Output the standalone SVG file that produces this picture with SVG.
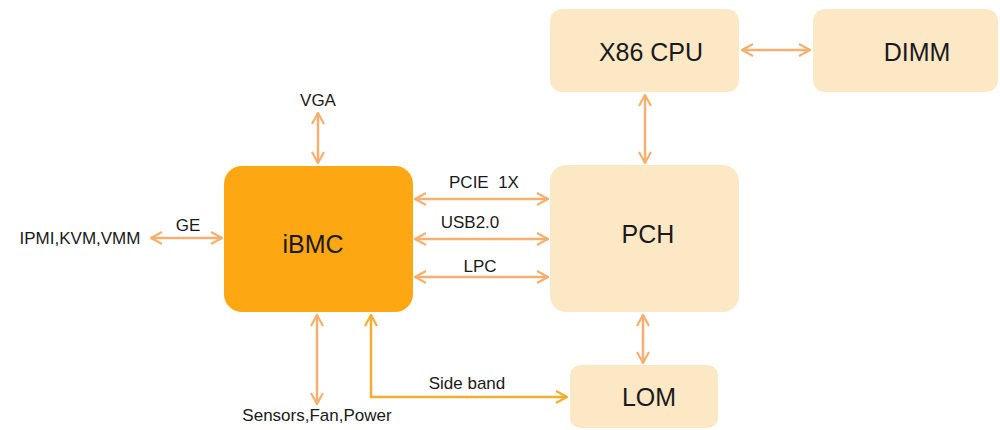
<svg xmlns="http://www.w3.org/2000/svg" width="1000" height="430" viewBox="0 0 1000 430">
<style>
.box{fill:#FDE8C6}
.main{fill:#FDA812}
.big{font-family:"Liberation Sans",Arial,sans-serif;font-size:25px;fill:#1a1a1a;text-anchor:middle;dominant-baseline:central}
.lbl{font-family:"Liberation Sans",Arial,sans-serif;font-size:17px;fill:#1a1a1a;text-anchor:middle;dominant-baseline:central}
.c{stroke:#F5B070;stroke-width:2.5;fill:none}
.sb{stroke:#F2AE30;stroke-width:2.5;fill:none}
</style>
<defs>
<marker id="a" viewBox="0 0 14 14" refX="13" refY="7" markerWidth="14" markerHeight="14" markerUnits="userSpaceOnUse" orient="auto-start-reverse">
<path d="M2,1 L13,7 L2,13" fill="none" stroke="#F5B070" stroke-width="2.2"/>
</marker>
<marker id="b" viewBox="0 0 14 14" refX="13" refY="7" markerWidth="14" markerHeight="14" markerUnits="userSpaceOnUse" orient="auto-start-reverse">
<path d="M2,1 L13,7 L2,13" fill="none" stroke="#F2AE30" stroke-width="2.2"/>
</marker>
</defs>
<g id="connectors">
<line class="c" x1="742" y1="50" x2="810" y2="50" marker-start="url(#a)" marker-end="url(#a)"/>
<line class="c" x1="645" y1="95" x2="645" y2="163" marker-start="url(#a)" marker-end="url(#a)"/>
<line class="c" x1="643" y1="315" x2="643" y2="363" marker-start="url(#a)" marker-end="url(#a)"/>
<line class="c" x1="415" y1="199" x2="548" y2="199" marker-start="url(#a)" marker-end="url(#a)"/>
<line class="c" x1="415" y1="239" x2="548" y2="239" marker-start="url(#a)" marker-end="url(#a)"/>
<line class="c" x1="415" y1="277" x2="548" y2="277" marker-start="url(#a)" marker-end="url(#a)"/>
<line class="c" x1="151" y1="238" x2="222" y2="238" marker-start="url(#a)" marker-end="url(#a)"/>
<line class="c" x1="318" y1="113" x2="318" y2="163" marker-start="url(#a)" marker-end="url(#a)"/>
<line class="c" x1="317" y1="315" x2="317" y2="404" marker-start="url(#a)" marker-end="url(#a)"/>
<polyline class="sb" points="371,315 371,397 567,397" marker-start="url(#b)" marker-end="url(#b)"/>
<text class="lbl" x="484" y="182" xml:space="preserve">PCIE  1X</text>
<text class="lbl" x="470" y="222">USB2.0</text>
<text class="lbl" x="480" y="266">LPC</text>
<text class="lbl" x="188" y="225">GE</text>
<text class="lbl" x="80" y="238">IPMI,KVM,VMM</text>
<text class="lbl" x="318" y="100">VGA</text>
<text class="lbl" x="317" y="415">Sensors,Fan,Power</text>
<text class="lbl" x="467" y="383">Side band</text>
</g>
<g id="ibmc"><rect class="main" x="224" y="166" width="189" height="146" rx="18"/><text class="big" x="313" y="244">iBMC</text></g>
<g id="pch"><rect class="box" x="550" y="165" width="189" height="147" rx="16"/><text class="big" x="648" y="234">PCH</text></g>
<g id="cpu"><rect class="box" x="550" y="9" width="189" height="83" rx="12"/><text class="big" x="651" y="52">X86 CPU</text></g>
<g id="dimm"><rect class="box" x="813" y="9" width="185" height="83" rx="12"/><text class="big" x="917" y="52">DIMM</text></g>
<g id="lom"><rect class="box" x="570" y="365" width="148" height="63" rx="10"/><text class="big" x="649" y="397">LOM</text></g>
</svg>
